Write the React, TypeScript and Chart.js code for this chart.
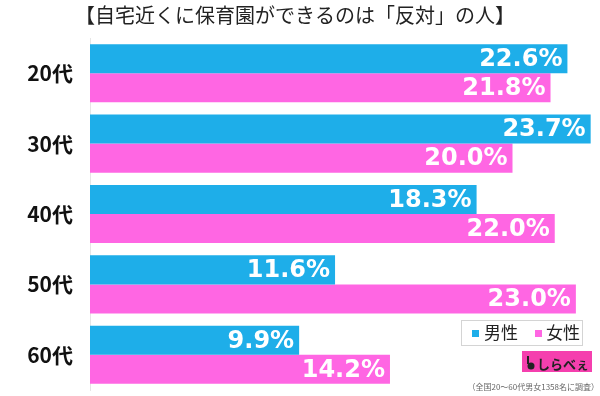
import React, { useEffect, useRef } from "react";
import { Chart, registerables } from "chart.js";

Chart.register(...registerables);

const categories = ["20代", "30代", "40代", "50代", "60代"];
const maleValues = [22.6, 23.7, 18.3, 11.6, 9.9];
const femaleValues = [21.8, 20.0, 22.0, 23.0, 14.2];
const seriesNames = ["男性", "女性"];
const titleText = "【自宅近くに保育園ができるのは「反対」の人】";
const noteText = "（全国20～60代男女1358名に調査）";
const logoText = "しらべぇ";

const BLUE = "#1eaee9";
const PINK = "#ff66e3";

const decorPlugin = {
  id: "decor",
  afterDatasetsDraw(chart: any) {
    const ctx = chart.ctx as CanvasRenderingContext2D;
    ctx.save();
    chart.data.datasets.forEach((ds: any, di: number) => {
      const meta = chart.getDatasetMeta(di);
      meta.data.forEach((bar: any, i: number) => {
        const v = ds.data[i] as number;
        ctx.font = "bold 24px 'DejaVu Sans', sans-serif";
        ctx.fillStyle = "#ffffff";
        ctx.textAlign = "right";
        ctx.textBaseline = "middle";
        ctx.fillText(v.toFixed(1) + "%", bar.x - 5, bar.y + 1);
      });
    });
    ctx.restore();
  },
  afterDraw(chart: any) {
    const ctx = chart.ctx as CanvasRenderingContext2D;
    ctx.save();
    // title
    ctx.font = "20px 'Noto Sans CJK JP', sans-serif";
    ctx.fillStyle = "#222";
    ctx.textAlign = "center";
    ctx.textBaseline = "middle";
    ctx.fillText(titleText, 295, 15);

    // legend box
    ctx.fillStyle = "#ffffff";
    ctx.fillRect(461, 320, 121, 25);
    ctx.strokeStyle = "#d4d4d4";
    ctx.lineWidth = 1;
    ctx.strokeRect(461.5, 320.5, 121, 25);
    ctx.fillStyle = BLUE;
    ctx.fillRect(472, 330, 7, 7);
    ctx.fillStyle = PINK;
    ctx.fillRect(535, 330, 7, 7);
    ctx.fillStyle = "#222";
    ctx.font = "17px 'Noto Sans CJK JP', sans-serif";
    ctx.textAlign = "left";
    ctx.fillText(seriesNames[0], 484, 333);
    ctx.fillText(seriesNames[1], 546, 333);

    // logo
    ctx.fillStyle = "#f53fae";
    ctx.fillRect(522, 351, 70, 21);
    ctx.fillStyle = "#222";
    ctx.font = "bold 13px 'Noto Sans CJK JP', sans-serif";
    ctx.textAlign = "left";
    ctx.fillText(logoText, 537, 364);
    ctx.fillRect(527, 356, 2, 8);
    ctx.beginPath();
    ctx.arc(531, 366, 3.5, 0, Math.PI * 2);
    ctx.fill();

    // note
    ctx.fillStyle = "#666";
    ctx.font = "8px 'Noto Sans CJK JP', sans-serif";
    ctx.textAlign = "right";
    ctx.fillText(noteText, 599, 387);
    ctx.restore();
  },
};

export default function App() {
  const ref = useRef<HTMLCanvasElement | null>(null);
  useEffect(() => {
    if (!ref.current) return;
    const chart = new Chart(ref.current, {
      type: "bar",
      data: {
        labels: categories,
        datasets: [
          { label: seriesNames[0], data: maleValues, backgroundColor: BLUE, borderWidth: 0 },
          { label: seriesNames[1], data: femaleValues, backgroundColor: PINK, borderWidth: 0 },
        ],
      },
      options: {
        indexAxis: "y",
        responsive: false,
        animation: false,
        layout: { padding: { top: 38, bottom: 6, left: 0, right: 3 } },
        datasets: { bar: { categoryPercentage: 0.825, barPercentage: 1.0 } },
        plugins: {
          legend: { display: false },
          tooltip: { enabled: false },
          title: { display: false },
        },
        scales: {
          x: { display: false, min: 0, max: 24 },
          y: {
            afterFit: (s: any) => {
              s.width = 90;
              s.paddingTop = 0;
              s.paddingBottom = 0;
            },
            grid: { display: false, drawTicks: false },
            border: { display: true, color: "#e6e6e6", width: 1 },
            ticks: {
              color: "#111",
              padding: 17,
              font: { family: "'Noto Sans CJK JP', sans-serif", size: 21, weight: "bold" },
            },
          },
        },
      } as any,
      plugins: [decorPlugin],
    });
    return () => chart.destroy();
  }, []);
  return (
    <div style={{ position: "fixed", left: 0, top: 0, width: 600, height: 396, background: "#fff" }}>
      <canvas ref={ref} width={600} height={396} style={{ display: "block" }} />
    </div>
  );
}
